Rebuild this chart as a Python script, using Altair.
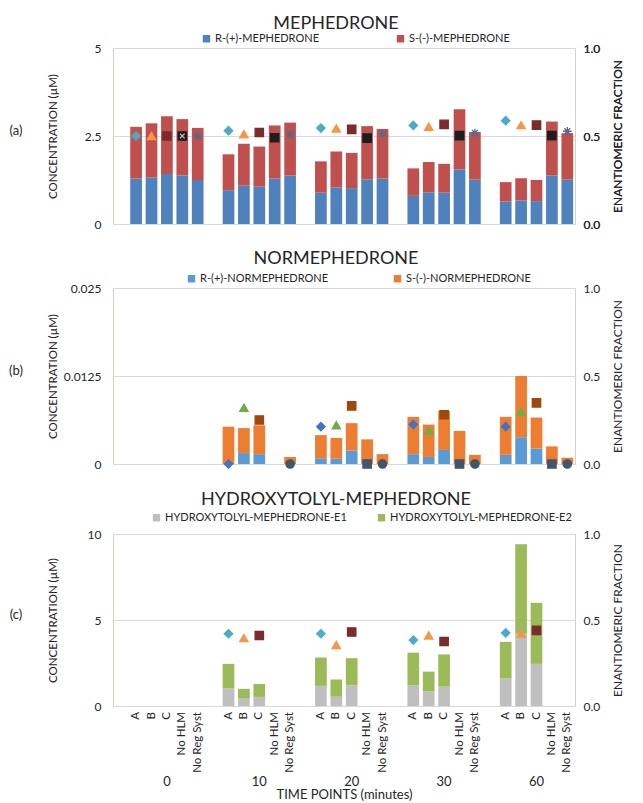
import altair as alt
import pandas as pd

FONT = "Lato"
TXT = "#262626"

TIMES = ["0", "10", "20", "30", "60"]
CONDS = ["A", "B", "C", "No HLM", "No Reg Syst"]
SLOTS = [" "] + CONDS  # leading empty slot inside each time group

# ---------------- (a) MEPHEDRONE (µM); rows = time points, columns = CONDS
MEPH_NAMES = ["R-(+)-MEPHEDRONE", "S-(-)-MEPHEDRONE"]
MEPH_R = [[1.29, 1.32, 1.42, 1.38, 1.25],
          [0.96, 1.09, 1.06, 1.29, 1.38],
          [0.89, 1.04, 1.02, 1.27, 1.29],
          [0.80, 0.90, 0.89, 1.55, 1.26],
          [0.64, 0.67, 0.65, 1.38, 1.26]]
MEPH_S = [[1.47, 1.54, 1.64, 1.60, 1.48],
          [1.02, 1.19, 1.14, 1.51, 1.50],
          [0.89, 1.02, 1.00, 1.51, 1.41],
          [0.78, 0.86, 0.82, 1.71, 1.35],
          [0.55, 0.63, 0.60, 1.53, 1.32]]
MEPH_EF = [[0.50, 0.50, 0.50, 0.50, 0.50],
           [0.53, 0.51, 0.52, 0.49, 0.51],
           [0.545, 0.543, 0.538, 0.488, 0.513],
           [0.56, 0.553, 0.566, 0.502, 0.517],
           [0.587, 0.562, 0.562, 0.502, 0.527]]
# the t = 0 "No HLM" marker carries an extra cross
MEPH_CROSS_TIME = ["0"]
MEPH_CROSS_COND = ["No HLM"]

# ---------------- (b) NORMEPHEDRONE (µM)
NOR_NAMES = ["R-(+)-NORMEPHEDRONE", "S-(-)-NORMEPHEDRONE"]
NOR_R = [[None, None, None, None, None],
         [0.0, 0.00155, 0.0014, None, 0.0],
         [0.00082, 0.00075, 0.0019, 0.0, 0.0],
         [0.0014, 0.0010, 0.0020, 0.0, 0.0],
         [0.0013, 0.0038, 0.0022, 0.0, 0.0]]
NOR_S = [[None, None, None, None, None],
         [0.0053, 0.00355, 0.0041, None, 0.0010],
         [0.00328, 0.00295, 0.0039, 0.0035, 0.0014],
         [0.0053, 0.0046, 0.0055, 0.0047, 0.0013],
         [0.0054, 0.0087, 0.0044, 0.0025, 0.0009]]
NOR_EF = [[None, None, None, None, None],
          [0.0, 0.32, 0.25, None, 0.0],
          [0.212, 0.22, 0.33, 0.0, 0.0],
          [0.224, 0.19, 0.28, 0.0, 0.0],
          [0.212, 0.298, 0.347, 0.0, 0.0]]

# ---------------- (c) HYDROXYTOLYL-MEPHEDRONE (µM)
HYD_NAMES = ["HYDROXYTOLYL-MEPHEDRONE-E1", "HYDROXYTOLYL-MEPHEDRONE-E2"]
HYD_E1 = [[None, None, None, None, None],
          [1.02, 0.43, 0.53, None, None],
          [1.17, 0.54, 1.20, None, None],
          [1.19, 0.84, 1.12, None, None],
          [1.60, 4.20, 2.45, None, None]]
HYD_E2 = [[None, None, None, None, None],
          [1.43, 0.57, 0.75, None, None],
          [1.65, 1.00, 1.58, None, None],
          [1.91, 1.16, 1.88, None, None],
          [2.13, 5.20, 3.55, None, None]]
HYD_EF = [[None, None, None, None, None],
          [0.42, 0.395, 0.41, None, None],
          [0.42, 0.355, 0.43, None, None],
          [0.383, 0.41, 0.375, None, None],
          [0.425, 0.42, 0.44, None, None]]

ASTERISK = "M-1,0L1,0M0,-1L0,1M-0.7,-0.7L0.7,0.7M-0.7,0.7L0.7,-0.7"
XMARK = "M-1,-1L1,1M-1,1L1,-1"

W = 462


def bar_frame(first, second, names):
    rows = []
    for ti, t in enumerate(TIMES):
        for ci, c in enumerate(CONDS):
            for k, vals in enumerate((first, second)):
                v = vals[ti][ci]
                if v is not None:
                    rows.append(dict(time=t, cond=c, series=names[k], ord=k, value=v))
    return pd.DataFrame(rows)


def ef_frame(ef):
    rows = []
    for ti, t in enumerate(TIMES):
        for ci, c in enumerate(CONDS):
            v = ef[ti][ci]
            if v is not None:
                rows.append(dict(time=t, cond=c, ef=v))
    return pd.DataFrame(rows)


def panel(label, title, bdf, names, colors, ymax, mdf, shapes, mcolors,
          leg_x, leg_y, col_pad, title_offset, H=176, bottom=False, cross_df=None):
    if bottom:
        x_axis = alt.Axis(labels=False, ticks=False, domain=False,
                          title="TIME POINTS (minutes)", titleFontSize=13,
                          titleFont=FONT, titleFontWeight="normal",
                          titlePadding=82, titleColor=TXT)
    else:
        x_axis = None
    X = alt.X("time:N", sort=TIMES,
              scale=alt.Scale(domain=TIMES, paddingInner=0, paddingOuter=0),
              axis=x_axis)
    XO = alt.XOffset("cond:N",
                     scale=alt.Scale(domain=SLOTS, paddingInner=0.24, paddingOuter=0.12))

    left_axis = alt.Axis(values=[0, ymax / 2, ymax], labelExpr="'' + datum.value",
                         grid=True, gridColor="#d9d9d9", domain=False, ticks=False,
                         labelPadding=12, labelFontSize=12, labelColor=TXT,
                         title="CONCENTRATION (µM)", titleFontSize=11.5,
                         titleFontWeight="normal", titleColor=TXT,
                         titleAngle=270, titleX=-60, titleY=H / 2,
                         titleAlign="center", titleBaseline="middle")
    bars = alt.Chart(bdf).mark_bar().encode(
        x=X, xOffset=XO,
        y=alt.Y("value:Q", stack="zero",
                scale=alt.Scale(domain=[0, ymax], nice=False), axis=left_axis),
        color=alt.Color("series:N",
                        scale=alt.Scale(domain=names, range=colors),
                        legend=alt.Legend(title=None, orient="none",
                                          legendX=leg_x, legendY=leg_y,
                                          direction="horizontal",
                                          symbolType="square", symbolSize=55,
                                          symbolStrokeWidth=0,
                                          labelFontSize=11, labelFont=FONT,
                                          labelColor=TXT, columnPadding=col_pad,
                                          labelOffset=3, labelLimit=400)),
        order=alt.Order("ord:Q"),
    )

    right_axis = alt.Axis(orient="right", values=[0, 0.5, 1], format=".1f",
                          grid=False, domain=False, ticks=False, labelPadding=8,
                          labelFontSize=12, labelColor=TXT,
                          title="ENANTIOMERIC FRACTION", titleFontSize=12,
                          titleFontWeight="normal", titleColor=TXT,
                          titleAngle=270, titleX=42, titleY=H / 2,
                          titleAlign="center", titleBaseline="middle")
    Y_EF = alt.Y("ef:Q", scale=alt.Scale(domain=[0, 1], nice=False), axis=right_axis)
    pts = alt.Chart(mdf).mark_point(filled=True, size=70, opacity=1,
                                    strokeWidth=1.3).encode(
        x=X, xOffset=XO, y=Y_EF,
        shape=alt.Shape("cond:N", scale=alt.Scale(domain=CONDS, range=shapes), legend=None),
        fill=alt.Fill("cond:N", scale=alt.Scale(domain=CONDS, range=mcolors), legend=None),
        stroke=alt.Stroke("cond:N", scale=alt.Scale(domain=CONDS, range=mcolors), legend=None),
    )

    lab = alt.Chart(pd.DataFrame({"t": [label]})).mark_text(
        font=FONT, fontSize=13, color=TXT, align="center", baseline="middle"
    ).encode(text="t:N", x=alt.value(-97), y=alt.value(H * 0.47))

    layers = [bars, pts]
    if cross_df is not None:
        crs = alt.Chart(cross_df).mark_point(shape=XMARK, filled=False, size=22,
                                             strokeWidth=1.2, color="#c8c8c8",
                                             opacity=1).encode(
            x=X, xOffset=XO, y=Y_EF)
        layers.append(crs)
    layers.append(lab)
    if bottom:
        cdf = pd.DataFrame([(t, c) for t in TIMES for c in CONDS], columns=["time", "cond"])
        clab = alt.Chart(cdf).mark_text(angle=270, align="right", baseline="middle",
                                        font=FONT, fontSize=11.5, color=TXT).encode(
            x=X, xOffset=XO, text="cond:N", y=alt.value(H + 6))
        tdf = pd.DataFrame({"time": TIMES, "cond": ["C"] * len(TIMES)})
        tlab = alt.Chart(tdf).mark_text(align="center", baseline="middle",
                                        font=FONT, fontSize=13, color=TXT).encode(
            x=X, xOffset=XO, text="time:N", y=alt.value(H + 76))
        layers += [clab, tlab]

    return alt.layer(*layers).resolve_scale(y="independent").properties(
        width=W, height=H,
        title=alt.TitleParams(title, fontSize=18, font=FONT, fontWeight="normal",
                              color=TXT, anchor="middle", frame="group",
                              dx=-8, offset=title_offset),
    )


meph_ef = ef_frame(MEPH_EF)
meph_cross = meph_ef.merge(pd.DataFrame({"time": MEPH_CROSS_TIME, "cond": MEPH_CROSS_COND}))

pa = panel("(a)", "MEPHEDRONE", bar_frame(MEPH_R, MEPH_S, MEPH_NAMES), MEPH_NAMES,
           ["#4f81bd", "#c0504d"], 5, meph_ef,
           ["diamond", "triangle-up", "square", "square", ASTERISK],
           ["#4bacc6", "#f79646", "#7a2b2b", "#1e1e1e", "#56698a"],
           leg_x=88, leg_y=-15, col_pad=76, title_offset=0, cross_df=meph_cross)
pb = panel("(b)", "NORMEPHEDRONE", bar_frame(NOR_R, NOR_S, NOR_NAMES), NOR_NAMES,
           ["#5b9bd5", "#ed7d31"], 0.025, ef_frame(NOR_EF),
           ["diamond", "triangle-up", "square", "square", "circle"],
           ["#4472c4", "#70ad47", "#9e480e", "#44546a", "#44546a"],
           leg_x=73, leg_y=-15, col_pad=63, title_offset=5)
pc = panel("(c)", "HYDROXYTOLYL-MEPHEDRONE", bar_frame(HYD_E1, HYD_E2, HYD_NAMES), HYD_NAMES,
           ["#bfbfbf", "#9bbb59"], 10, ef_frame(HYD_EF),
           ["diamond", "triangle-up", "square", "square", "circle"],
           ["#4bacc6", "#f79646", "#7a2b2b", "#1e1e1e", "#44546a"],
           leg_x=38, leg_y=-22, col_pad=29, title_offset=3, H=172, bottom=True)

chart = alt.vconcat(pa, pb, pc, spacing=18).resolve_scale(
    color="independent", fill="independent", stroke="independent",
    shape="independent", x="independent", xOffset="independent", y="independent",
).properties(
    padding={"left": 0, "top": 6, "right": 0, "bottom": 0}
).configure_view(
    stroke="#d6d1c4", strokeWidth=1
).configure_axis(
    labelFont=FONT, titleFont=FONT
).configure_legend(
    labelFont=FONT
)

chart.save("out.html", embed_options={"renderer": "svg", "actions": False})
